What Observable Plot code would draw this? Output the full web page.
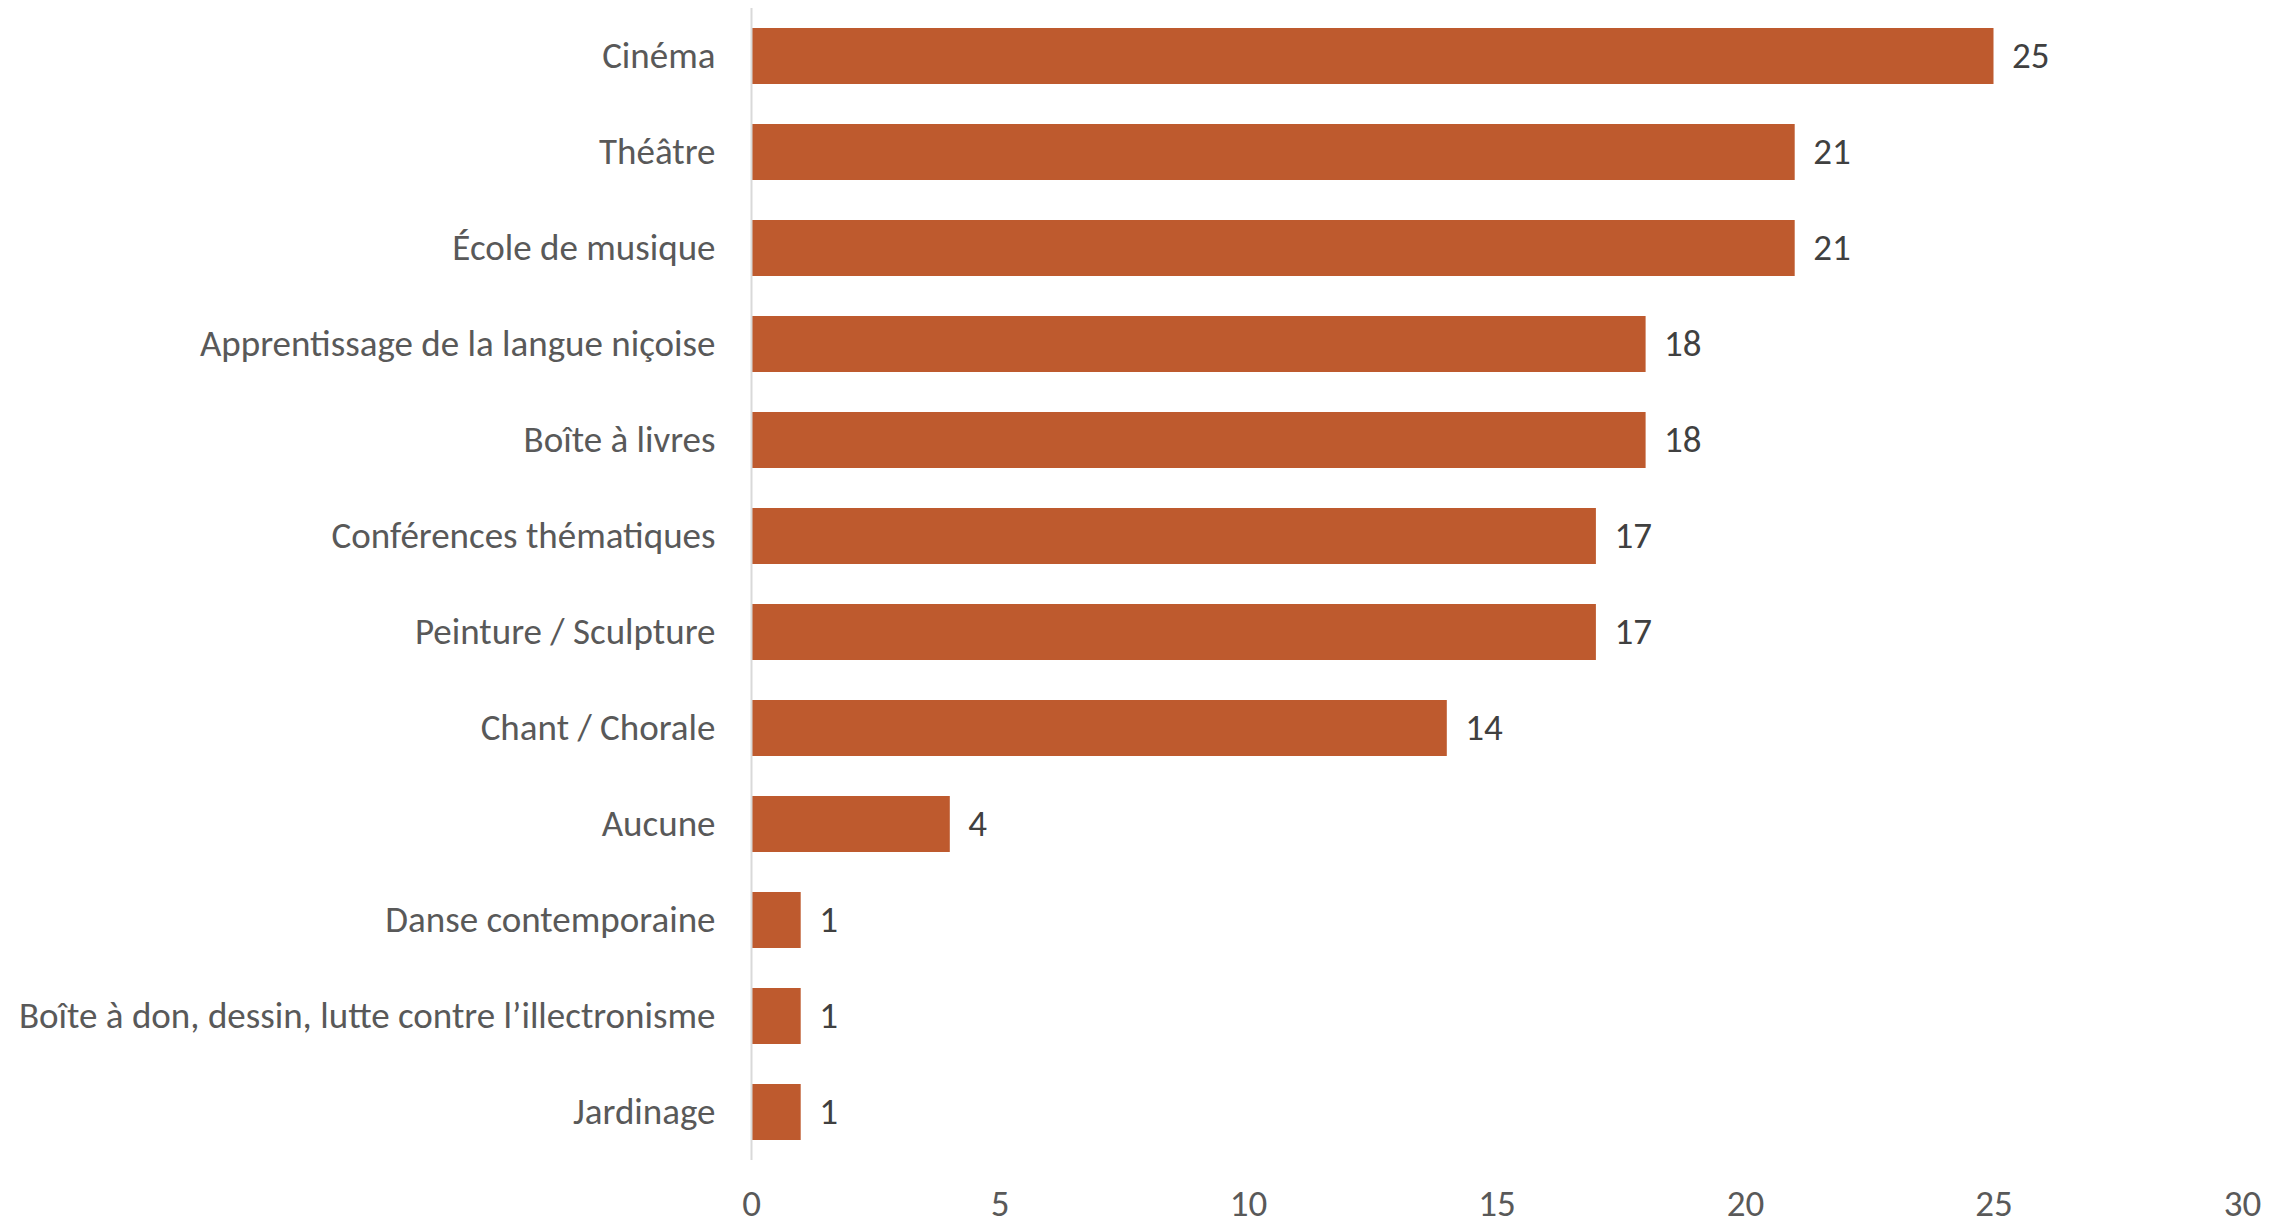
<!DOCTYPE html>
<html>
<head>
<meta charset="utf-8">
<script src="https://cdn.jsdelivr.net/npm/d3@7"></script>
<script src="https://cdn.jsdelivr.net/npm/@observablehq/plot@0.6"></script>
<style>
  html, body { margin: 0; padding: 0; background: #fff; overflow: hidden; }
  #chart svg { display: block; }
</style>
</head>
<body>
<div id="chart"></div>
<script>
const categories = [
  "Cinéma",
  "Théâtre",
  "École de musique",
  "Apprentissage de la langue niçoise",
  "Boîte à livres",
  "Conférences thématiques",
  "Peinture / Sculpture",
  "Chant / Chorale",
  "Aucune",
  "Danse contemporaine",
  "Boîte à don, dessin, lutte contre l’illectronisme",
  "Jardinage"
];
const values = [25, 21, 21, 18, 18, 17, 17, 14, 4, 1, 1, 1];
const xTicks = [0, 5, 10, 15, 20, 25, 30];

const data = categories.map((c, i) => ({category: c, value: values[i]}));
const FONT = "Carlito, Calibri, sans-serif";

const chart = Plot.plot({
  width: 2292,
  height: 1227,
  marginLeft: 751,
  marginRight: 50,
  marginTop: 8,
  marginBottom: 67,
  style: {fontFamily: FONT, background: "#fff"},
  x: {domain: [0, 30], ticks: xTicks},
  y: {domain: categories, paddingInner: 0.42, paddingOuter: 0.21},
  marks: [
    Plot.barX(data, {x: "value", y: "category", fill: "#BE5A2E"}),
    Plot.ruleX([0], {stroke: "#D9D9D9", strokeWidth: 2}),
    Plot.text(data, {x: "value", y: "category", text: d => String(d.value), textAnchor: "start", dx: 18, fontSize: 37, fill: "#404040"}),
    Plot.axisY({tickSize: 0, tickPadding: 36, fontSize: 37, color: "#595959", label: null}),
    Plot.axisX({tickSize: 0, tickPadding: 29, fontSize: 37, color: "#595959", label: null, ticks: xTicks})
  ]
});
document.getElementById("chart").appendChild(chart);
</script>
</body>
</html>
